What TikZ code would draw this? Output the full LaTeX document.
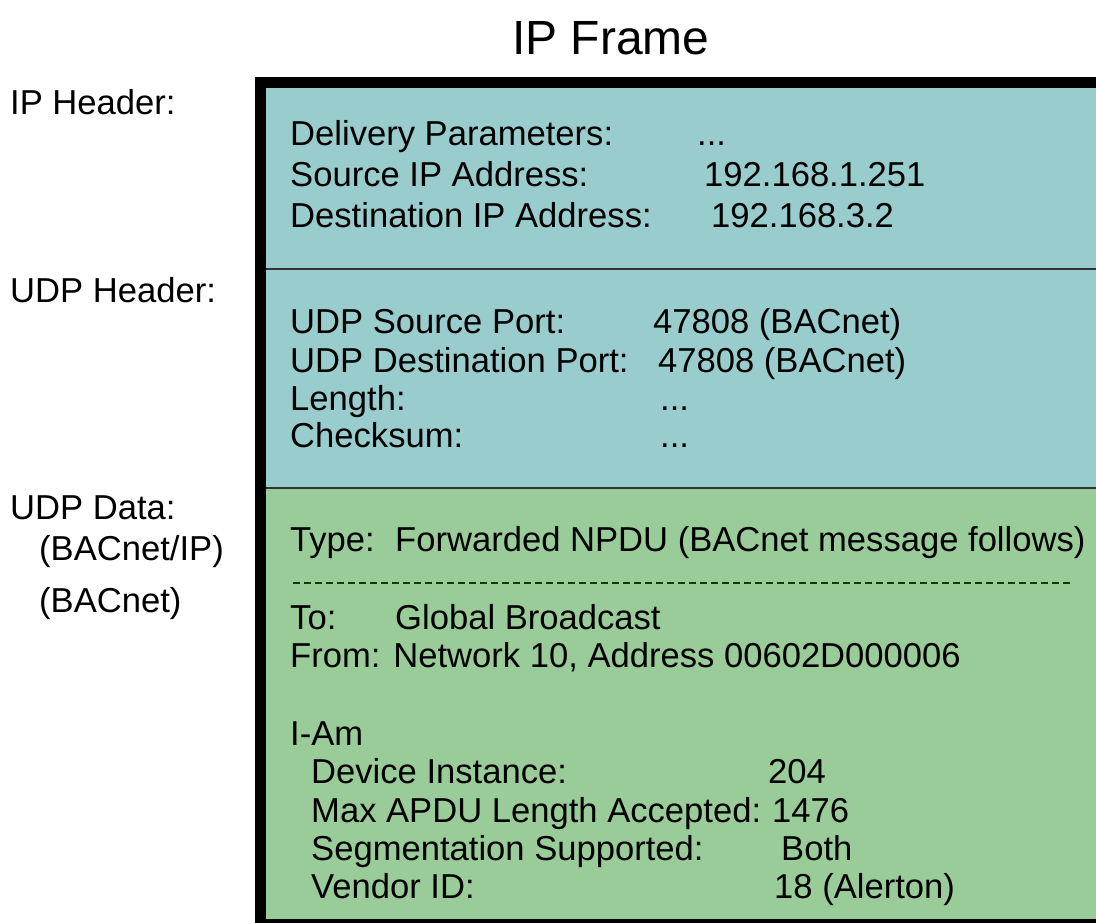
\documentclass[tikz,border=0pt]{standalone}
\usepackage{fontspec}
\setmainfont{Liberation Sans}
\usetikzlibrary{positioning}
\definecolor{hdrteal}{HTML}{99CCCC}
\definecolor{datagreen}{HTML}{99CC99}
\tikzset{
  field/.style={anchor=base west, inner sep=0pt, font=\fontsize{34.6}{40}\selectfont},
  title/.style={anchor=base, inner sep=0pt, font=\fontsize{48}{56}\selectfont},
  divider/.style={line width=2.5pt, black!80},
}

\begin{document}
\begin{tikzpicture}[x=1pt, y=-1pt]
\useasboundingbox (0,0) rectangle (1096,923);
% frame: header part, data part, borders
\fill[hdrteal] (260,82) rectangle (1120,488);
\fill[datagreen] (260,488) rectangle (1120,930);
\draw[divider] (266,269) -- (1120,269);
\draw[divider] (266,488) -- (1120,488);
\draw[line width=11pt] (260.5,82.5) rectangle (1130,924.5);
\draw[line width=2.5pt, black!75!green, dash pattern=on 7pt off 4pt] (293,583) -- (1073,583);

\node[title] (frame) at (611,55) {IP Frame};

% labels on the left
\node[field] (iphdr) at (10,115) {IP Header:};
\node[field] (udphdr) at (10,302) {UDP Header:};
\node[field] (udpdata) at (10,519) {UDP Data:};
\node[field] (bip) at (39,560) {(BACnet/IP)};
\node[field] (bacnet) at (39,612) {(BACnet)};

% IP header
\node[field] (deliv) at (290,146) {Delivery Parameters:};
\node[field] (delivval) at (697,146) {...};
\node[field] (srcip) at (290,187) {Source IP Address:};
\node[field] (srcipval) at (704,187) {192.168.1.251};
\node[field] (dstip) at (290,228) {Destination IP Address:};
\node[field] (dstipval) at (711,228) {192.168.3.2};

% UDP header
\node[field] (srcport) at (290,333) {UDP Source Port:};
\node[field] (srcportval) at (653,333) {47808 (BACnet)};
\node[field] (dstport) at (290,372) {UDP Destination Port:};
\node[field] (dstportval) at (658,372) {47808 (BACnet)};
\node[field] (len) at (290,410) {Length:};
\node[field] (lenval) at (660,410) {...};
\node[field] (chk) at (290,447) {Checksum:};
\node[field] (chkval) at (660,447) {...};

% UDP data
\node[field] (type) at (290,551) {Type:};
\node[field] (typeval) at (395,551) {Forwarded NPDU (BACnet message follows)};
\node[field] (to) at (290,629) {To:};
\node[field] (toval) at (395,629) {Global Broadcast};
\node[field] (from) at (290,667) {From: Network 10, Address 00602D000006};
\node[field] (iam) at (290,745) {I-Am};
\node[field] (devinst) at (311,783) {Device Instance:};
\node[field] (devinstval) at (768,783) {204};
\node[field] (maxapdu) at (311,822) {Max APDU Length Accepted:};
\node[field] (maxapduval) at (772,822) {1476};
\node[field] (segm) at (311,860) {Segmentation Supported:};
\node[field] (segmval) at (781,860) {Both};
\node[field] (vendor) at (311,898) {Vendor ID:};
\node[field] (vendorval) at (774,898) {18 (Alerton)};
\end{tikzpicture}
\end{document}
